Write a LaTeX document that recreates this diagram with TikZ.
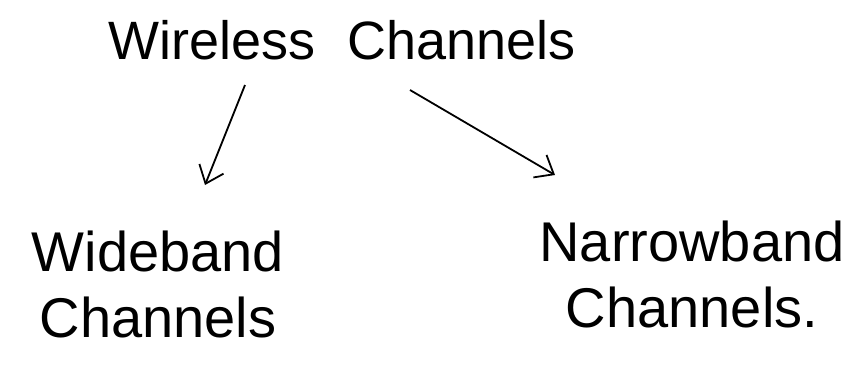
\documentclass[tikz,border=0pt]{standalone}
\usepackage{fontspec}
\setmainfont{Liberation Sans}
\usetikzlibrary{arrows.meta}
\begin{document}
\begin{tikzpicture}[x=1pt,y=-1pt,
  lbl/.style={font=\fontsize{56}{66}\selectfont, align=center, inner sep=0pt},
  top/.style={font=\fontsize{54}{64}\selectfont, inner sep=0pt},
  conn/.style={line width=1.8pt, -{Straight Barb[length=16pt,width=26pt,line width=1.8pt]}}]
\useasboundingbox (0,0) rectangle (862,365);
\node[top] (w) at (342,40) {Wireless\hspace{0.6em}Channels};
\node[lbl] (wb) at (158,284) {Wideband\\Channels};
\node[lbl] (nb) at (692,274) {Narrowband\\Channels.};
\coordinate (a1) at (245,85);
\coordinate (a2) at (410,90);
\coordinate (e1) at (205,185);
\coordinate (e2) at (555,175);
\draw[conn] (a1) -- (e1);
\draw[conn] (a2) -- (e2);
\end{tikzpicture}
\end{document}
